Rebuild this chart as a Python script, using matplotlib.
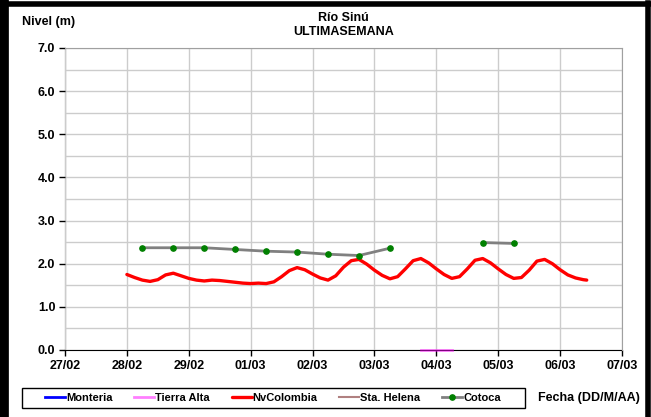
import matplotlib
matplotlib.use("Agg")
import matplotlib.pyplot as plt
import numpy as np
from matplotlib.lines import Line2D
from matplotlib.patches import Rectangle

plt.rcParams['font.family'] = ['Liberation Sans', 'DejaVu Sans']

# day labels (x = days since 27/02 00:00)
day_labels = ["27/02", "28/02", "29/02", "01/03", "02/03", "03/03",
              "04/03", "05/03", "06/03", "07/03"]

# NvColombia, every 3 hours
nvcol_t = [1.00, 1.125, 1.25, 1.375, 1.50, 1.625, 1.75, 1.875, 2.00, 2.125,
           2.25, 2.375, 2.50, 2.625, 2.75, 2.875, 3.00, 3.125, 3.25, 3.375,
           3.50, 3.625, 3.75, 3.875, 4.00, 4.125, 4.25, 4.375, 4.50, 4.625,
           4.75, 4.875, 5.00, 5.125, 5.25, 5.375, 5.50, 5.625, 5.75, 5.875,
           6.00, 6.125, 6.25, 6.375, 6.50, 6.625, 6.75, 6.875, 7.00, 7.125,
           7.25, 7.375, 7.50, 7.625, 7.75, 7.875, 8.00, 8.125, 8.25, 8.375,
           8.43]
nvcol_v = [1.75, 1.68, 1.62, 1.59, 1.63, 1.74, 1.78, 1.72, 1.66, 1.62,
           1.60, 1.62, 1.61, 1.59, 1.57, 1.55, 1.54, 1.55, 1.54, 1.58,
           1.70, 1.84, 1.91, 1.86, 1.76, 1.67, 1.62, 1.72, 1.92, 2.07,
           2.10, 1.99, 1.85, 1.73, 1.65, 1.70, 1.88, 2.07, 2.12, 2.02,
           1.88, 1.75, 1.66, 1.70, 1.88, 2.08, 2.12, 2.02, 1.88, 1.75,
           1.66, 1.68, 1.85, 2.06, 2.10, 2.00, 1.86, 1.74, 1.67, 1.63,
           1.62]

# Cotoca, every 12 hours (nan = no data)
cotoca_t = [1.25, 1.75, 2.25, 2.75, 3.25, 3.75, 4.25, 4.75, 5.25, 5.75,
            6.25, 6.75, 7.25]
cotoca_v = [2.37, 2.37, 2.37, 2.33, 2.29, 2.27, 2.22, 2.19, 2.36, np.nan,
            np.nan, 2.49, 2.47]

# Tierra Alta
talta_t = [5.75, 6.0, 6.25]
talta_v = [0.0, 0.0, 0.0]

fig = plt.figure(figsize=(6.51, 4.17), dpi=100)
ax = fig.add_axes([65 / 651, 1 - 350 / 417, (622 - 65) / 651, (350 - 48) / 417])

ax.plot([], [], color='#0000ff', lw=2, label='Monteria')
ax.plot(talta_t, talta_v, color='#ff00ff', lw=2, alpha=0.5, clip_on=False,
        zorder=1, label='Tierra Alta')
ax.plot(nvcol_t, nvcol_v, color='#ff0000', lw=2.4, solid_joinstyle='round',
        solid_capstyle='round', label='NvColombia')
ax.plot([], [], color='#b08080', lw=1.5, label='Sta. Helena')
ax.plot(cotoca_t, cotoca_v, color='#808080', lw=2, marker='o', ms=3.8,
        mfc='#008000', mec='#008000', label='Cotoca')

ax.set_xlim(0, 9)
ax.set_ylim(0, 7)
ax.set_xticks(range(10))
ax.set_xticklabels(day_labels, fontsize=9, fontweight='bold')
ax.set_yticks(np.arange(0, 7.01, 1.0))
ax.set_yticklabels([f"{v:.1f}" for v in np.arange(0, 7.01, 1.0)],
                   fontsize=9, fontweight='bold')
ax.set_yticks(np.arange(0.5, 7, 1.0), minor=True)
ax.tick_params(axis='y', which='minor', length=0)
ax.tick_params(axis='both', which='major', length=4, width=1, pad=3)
ax.grid(True, which='both', color='#cccccc', lw=1)
ax.set_axisbelow(True)
for s in ['top', 'right']:
    ax.spines[s].set_color('#a0a0a0')
for s in ['left', 'bottom']:
    ax.spines[s].set_color('black')
    ax.spines[s].set_zorder(0.5)

fig.text(22 / 651, 1 - 22 / 417, "Nivel (m)", fontsize=9, fontweight='bold',
         va='center', ha='left')
fig.text(343.5 / 651, 1 - 18 / 417, "Río Sinú", fontsize=9, fontweight='bold',
         va='center', ha='center')
fig.text(343.5 / 651, 1 - 32 / 417, "ULTIMASEMANA", fontsize=9,
         fontweight='bold', va='center', ha='center')
fig.text(640 / 651, 1 - 398 / 417, "Fecha (DD/M/AA)", fontsize=9,
         fontweight='bold', va='center', ha='right')

# legend box drawn separately
fig.add_artist(Rectangle((22 / 651, 1 - 408 / 417), (525 - 22) / 651, 20 / 417,
                         transform=fig.transFigure, fill=False,
                         edgecolor='black', lw=1))
leg = fig.legend(loc='center left', bbox_to_anchor=(36 / 651, 1 - 398 / 417),
                 ncol=5, prop={'weight': 'bold', 'size': 8},
                 frameon=False, handlelength=1.8,
                 handletextpad=0.1, columnspacing=1.95, borderpad=0.3)

# black frame around the picture
fig.add_artist(Line2D([0, 650 / 651], [1 - 4 / 417, 1 - 4 / 417], color='black',
                      lw=4, transform=fig.transFigure))
fig.add_artist(Line2D([4 / 651, 4 / 651], [0, 1 - 4 / 417], color='black',
                      lw=7, transform=fig.transFigure))
fig.add_artist(Line2D([648 / 651, 648 / 651], [0, 1 - 3 / 417], color='black',
                      lw=4, transform=fig.transFigure))

fig.savefig("out.png", dpi=100)
